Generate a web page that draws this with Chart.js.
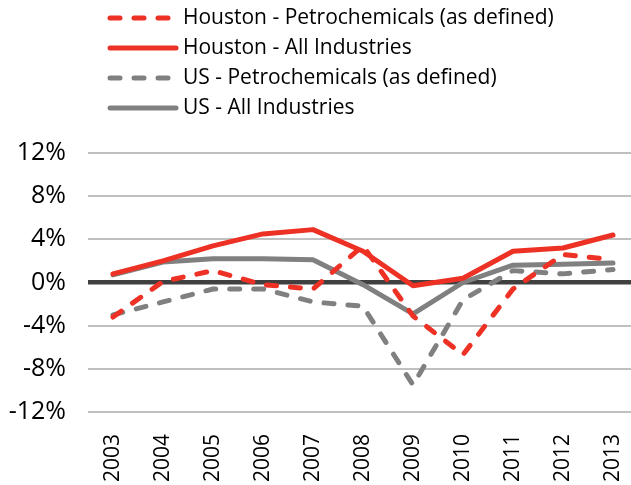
<!DOCTYPE html>
<html>
<head>
<meta charset="utf-8">
<script src="https://cdn.jsdelivr.net/npm/chart.js@4/dist/chart.umd.min.js"></script>
<style>
  html, body { margin: 0; padding: 0; background: #fff; overflow: hidden; }
  #wrap { width: 640px; height: 485px; }
</style>
</head>
<body>
<div id="wrap"><canvas id="chart" width="640" height="485"></canvas></div>
<script>
const red  = "#ed3124";
const gray = "#808080";
const font = "'Open Sans', 'Noto Sans', sans-serif";

const years        = ["2003", "2004", "2005", "2006", "2007", "2008", "2009", "2010", "2011", "2012", "2013"];
const houstonPetro = [-3.2, 0.1, 1.1, -0.2, -0.6, 3.4, -3.1, -6.7, -0.6, 2.6, 2.1];
const houstonAll   = [0.8, 2.0, 3.4, 4.5, 4.9, 2.9, -0.3, 0.4, 2.9, 3.2, 4.4];
const usPetro      = [-3.0, -1.8, -0.6, -0.6, -1.8, -2.2, -9.5, -1.6, 1.1, 0.8, 1.2];
const usAll        = [0.7, 1.9, 2.2, 2.2, 2.1, -0.2, -2.9, 0.0, 1.6, 1.7, 1.8];
const yTicks       = [-12, -8, -4, 0, 4, 8, 12];

const dash = [10, 14];

const line = (label, data, color, dashed) => ({
  label, data,
  borderColor: color,
  backgroundColor: color,
  borderWidth: 5,
  borderDash: dashed ? dash : [],
  borderCapStyle: "round",
  borderJoinStyle: "round",
  pointRadius: 0,
  tension: 0,
  fill: false
});

// legend drawn by hand: four stacked rows, left aligned
const stackedLegend = {
  id: "stackedLegend",
  afterDraw(chart) {
    const ctx = chart.ctx;
    ctx.save();
    chart.data.datasets.forEach((ds, i) => {
      const y = 18 + i * 30;
      ctx.beginPath();
      ctx.setLineDash(ds.borderDash);
      ctx.lineCap = "round";
      ctx.lineWidth = ds.borderWidth;
      ctx.strokeStyle = ds.borderColor;
      ctx.moveTo(110, y);
      ctx.lineTo(176, y);
      ctx.stroke();
      ctx.setLineDash([]);
      ctx.fillStyle = "#000";
      ctx.font = "21px " + font;
      ctx.textBaseline = "middle";
      ctx.textAlign = "left";
      ctx.fillText(ds.label, 183, y);
    });
    ctx.restore();
  }
};

new Chart(document.getElementById("chart"), {
  type: "line",
  data: {
    labels: years,
    datasets: [
      line("Houston - Petrochemicals (as defined)", houstonPetro, red, true),
      line("Houston - All Industries", houstonAll, red, false),
      line("US - Petrochemicals (as defined)", usPetro, gray, true),
      line("US - All Industries", usAll, gray, false),
    ]
  },
  options: {
    responsive: false,
    animation: false,
    layout: { padding: { top: 153, right: 2, left: 0, bottom: 0 } },
    plugins: { legend: { display: false }, tooltip: { enabled: false } },
    scales: {
      x: {
        offset: true,
        grid: { display: false },
        border: { display: false },
        ticks: {
          color: "#000", autoSkip: false, minRotation: 90, maxRotation: 90, padding: 14,
          font: { family: font, size: 21 }
        },
        afterFit: s => { s.height = 73; s.paddingLeft = 0; s.paddingRight = 0; }
      },
      y: {
        min: -12, max: 12,
        afterBuildTicks: s => { s.ticks = yTicks.map(v => ({ value: v })); },
        border: { display: false },
        grid: {
          drawTicks: false,
          color: c => c.tick && c.tick.value === 0 ? "#404040" : "#c0c0c0",
          lineWidth: c => c.tick && c.tick.value === 0 ? 4.5 : 2
        },
        ticks: {
          color: "#000", padding: 22,
          font: { family: font, size: 25 },
          callback: v => v + "%"
        },
        afterFit: s => { s.width = 88; }
      }
    }
  },
  plugins: [stackedLegend]
});
</script>
</body>
</html>
